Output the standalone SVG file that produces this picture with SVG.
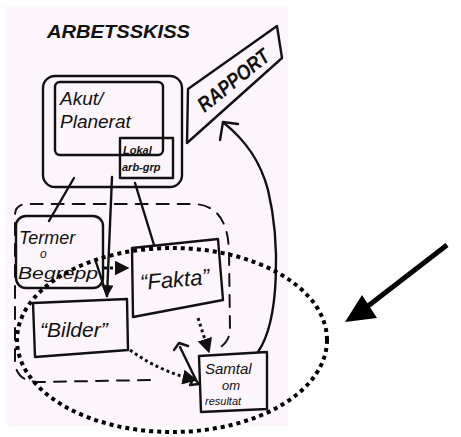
<svg xmlns="http://www.w3.org/2000/svg" width="461" height="437" viewBox="0 0 461 437">
<defs>
<style>
.ln{fill:none;stroke:#111;stroke-width:2.4;stroke-linecap:round;stroke-linejoin:round}
.dash{fill:none;stroke:#111;stroke-width:2;stroke-dasharray:12 9;stroke-linecap:round}
.dot{fill:none;stroke:#111;stroke-width:3;stroke-dasharray:3 3}
.big{fill:none;stroke:#000;stroke-width:4;stroke-dasharray:4 4}
.t{font-family:"Liberation Sans",Arial,sans-serif;font-style:italic;fill:#111}
</style>
<marker id="ah" viewBox="0 0 10 10" refX="9" refY="5" markerWidth="5" markerHeight="5" orient="auto-start-reverse"><path d="M0,0 L10,5 L0,10 z" fill="#111"/></marker>
</defs>
<rect x="6" y="7" width="282" height="419" fill="#fcf5fb"/>

<text class="t" x="47" y="38" font-size="19" font-weight="bold" textLength="143" lengthAdjust="spacingAndGlyphs">ARBETSSKISS</text>

<g id="monitor">
<rect class="ln" x="43" y="76" width="139" height="111" rx="12"/>
<rect class="ln" x="55" y="82" width="108" height="73" rx="5"/>
<text class="t" x="60" y="105" font-size="19">Akut/</text>
<text class="t" x="60" y="128" font-size="19">Planerat</text>
</g>
<g id="arbgrp">
<rect class="ln" x="120" y="138" width="53" height="40" fill="#fcf5fb"/>
<text class="t" x="123" y="154" font-size="11" font-weight="bold">Lokal</text>
<text class="t" x="122" y="171" font-size="11" font-weight="bold">arb-grp</text>
</g>

<g id="rapport">
<polygon class="ln" points="188,89 277,26 282,58 187,143"/>
<text class="t" x="0" y="0" font-size="21" font-weight="bold" text-anchor="middle" textLength="86" lengthAdjust="spacingAndGlyphs" transform="translate(238,86) rotate(-39)">RAPPORT</text>
</g>

<g id="termer">
<rect class="ln" x="16" y="216" width="87" height="72" rx="10"/>
<text class="t" x="19" y="244" font-size="18">Termer</text>
<text class="t" x="40" y="258" font-size="12">o</text>
<text class="t" x="18" y="279" font-size="17" textLength="80" lengthAdjust="spacingAndGlyphs">Begrepp</text>
</g>

<g id="fakta">
<polygon class="ln" points="132,248 218,239 223,300 133,317"/>
<text class="t" x="140" y="287" font-size="22" transform="rotate(-5 175 280)">“Fakta”</text>
</g>

<g id="bilder">
<polygon class="ln" points="33,303 127,299 128,350 35,357"/>
<text class="t" x="40" y="337" font-size="21">“Bilder”</text>
</g>

<g id="samtal">
<polygon class="ln" points="199,356 267,352 267,409 201,412"/>
<text class="t" x="205" y="374" font-size="15">Samtal</text>
<text class="t" x="222" y="390" font-size="13">om</text>
<text class="t" x="205" y="405" font-size="11">resultat</text>
</g>

<g id="connectors">
<path class="dash" d="M150,380 L40,382 Q15,382 15,360 L15,215 Q15,204 28,204 L195,204 Q228,206 229,252 L230,330 Q229,345 214,350"/>
<line class="ln" x1="74" y1="178" x2="49" y2="221"/>
<line class="ln" x1="112" y1="177" x2="107" y2="296" marker-end="url(#ah)"/>
<line class="ln" x1="96" y1="262" x2="107" y2="296"/>
<line class="ln" x1="135" y1="183" x2="154" y2="245"/>
<path class="ln" d="M258,352 C280,320 280,240 268,190 C260,160 245,140 224,123"/>
<path class="ln" d="M220,140 L223,122 L238,124"/>
<line class="dot" x1="104" y1="268" x2="128" y2="268" marker-end="url(#ah)"/>
<line class="dot" x1="198" y1="318" x2="209" y2="352" marker-end="url(#ah)"/>
<path class="dot" d="M130,350 Q160,372 196,380" marker-end="url(#ah)"/>
<line class="ln" x1="196" y1="380" x2="180" y2="347"/>
<path class="ln" d="M174,350 L179,343 L188,346"/>
<polygon class="ln" points="194,378 199,384 190,385" fill="none" stroke-width="1.5"/>
<ellipse class="big" cx="172" cy="340" rx="155" ry="92"/>
<line x1="447" y1="245" x2="368" y2="306" stroke="#000" stroke-width="5"/>
<polygon points="345,322 362,295 377,318" fill="#000"/>
</g>
</svg>
